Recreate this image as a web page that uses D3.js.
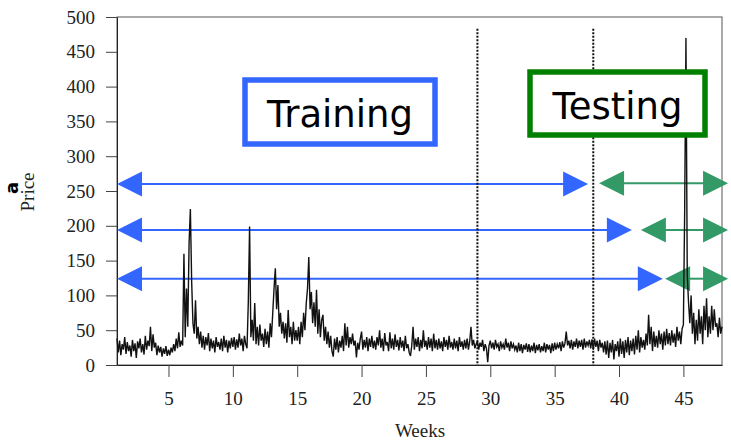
<!DOCTYPE html>
<html>
<head>
<meta charset="utf-8">
<title>Price over weeks</title>
<script src="https://d3js.org/d3.v7.min.js"></script>
<style>
  body { margin: 0; background: #fff; }
  .tick text { font-family: "Liberation Serif", "DejaVu Serif", serif; font-size: 19px; fill: #222; }
  .axis-label { font-family: "Liberation Serif", "DejaVu Serif", serif; font-size: 19px; fill: #222; }
  .box-label { font-family: "DejaVu Sans", sans-serif; font-size: 37px; fill: #000; }
</style>
</head>
<body>
<svg id="chart" width="731" height="441"></svg>
<script>
// price readings, one every 0.1 week starting at week 1
const weekStart = 1, weekStep = 0.1;
const price = [
  38,18,35,14,30,22,40,16,33,20,   // week 1
  28,12,36,20,31,10,34,24,38,18,
  30,15,42,22,35,27,55,20,44,25,
  32,14,28,18,26,12,24,16,27,13,
  22,14,25,18,30,20,38,24,47,26,   // week 5
  35,28,160,40,110,55,175,224,120,60,
  45,93,38,55,30,48,25,42,22,40,
  28,46,20,38,24,35,18,40,26,33,
  22,38,20,42,25,36,18,35,24,39,
  26,40,22,37,25,45,28,38,20,42,   // week 10
  30,24,90,199,40,65,35,89,30,55,
  28,58,35,45,26,52,30,48,25,60,
  40,75,110,139,80,115,55,75,45,62,
  38,60,32,79,40,55,30,62,35,50,
  35,55,30,62,40,75,50,88,110,155, // week 15
  80,105,60,90,55,108,45,80,40,65,
  72,35,55,30,48,25,42,20,12,38,
  22,40,18,35,25,42,20,60,28,55,
  25,40,30,45,28,35,11,32,22,38,
  48,22,36,25,40,20,38,26,42,24,   // week 20
  35,22,40,28,50,25,38,20,46,28,
  33,20,47,24,38,22,44,26,36,21,
  40,25,35,20,42,24,30,18,13,28,
  55,22,38,26,40,20,36,24,50,26,
  35,22,40,25,38,20,45,24,36,22,   // week 25
  38,24,34,20,40,26,36,22,42,25,
  33,22,38,24,35,20,40,26,34,22,
  36,24,38,22,34,55,28,36,24,30,
  34,22,32,26,36,20,30,24,4,28,
  35,24,32,22,36,26,30,20,34,25,   // week 30
  30,22,38,25,32,20,34,24,30,22,
  28,18,32,20,30,17,29,22,31,19,
  30,18,28,20,32,17,29,21,30,18,
  27,20,32,18,30,22,29,17,31,20,
  32,22,30,24,33,20,34,25,31,48,   // week 35
  28,35,24,36,22,34,26,38,24,35,
  26,36,22,38,25,34,28,36,24,37,
  22,38,26,35,20,36,25,32,18,34,
  15,35,10,32,18,36,8,30,20,34,
  12,38,16,34,10,36,18,40,14,35,   // week 40
  20,38,15,42,22,50,18,40,25,36,
  22,45,28,72,30,55,20,48,26,42,
  25,50,30,45,22,48,28,52,30,46,
  28,50,32,45,26,55,35,48,30,52,
  58,220,470,130,90,60,100,45,75,30, // week 45
  65,35,80,45,70,30,85,50,96,40,
  70,45,85,50,80,55,60,40,68,45,
  55
];

const xTicks = [5, 10, 15, 20, 25, 30, 35, 40, 45];
const yTicks = [0, 50, 100, 150, 200, 250, 300, 350, 400, 450, 500];

// week where training ends / testing starts
const splitWeeks = [29, 38];

// annotation arrows, in weeks and price
const trainingArrows = [
  {price: 260, from: 1, to: 37.6},
  {price: 194, from: 1, to: 41.0},
  {price: 124, from: 1, to: 43.4}
];
const testingArrows = [
  {price: 261, from: 38.45, to: 48.47},
  {price: 194, from: 41.7, to: 48.47},
  {price: 124, from: 43.58, to: 48.47}
];

const svg = d3.select("#chart");
const margin = {top: 17, right: 9, bottom: 76, left: 117};
const width = 731 - margin.left - margin.right,
      height = 441 - margin.top - margin.bottom;

const x = d3.scaleLinear().domain([1, 48]).range([margin.left, margin.left + width]);
const y = d3.scaleLinear().domain([0, 500]).range([margin.top + height, margin.top]);

// frame
svg.append("rect")
    .attr("x", margin.left).attr("y", margin.top)
    .attr("width", width).attr("height", height)
    .attr("fill", "none").attr("stroke", "#555").attr("stroke-width", 1);

// axes
const xAxis = svg.append("g")
    .attr("transform", `translate(0,${margin.top + height})`)
    .call(d3.axisBottom(x).tickValues(xTicks).tickSize(12).tickSizeOuter(0).tickPadding(15));
const yAxis = svg.append("g")
    .attr("transform", `translate(${margin.left},0)`)
    .call(d3.axisLeft(y).tickValues(yTicks).tickSize(11).tickSizeOuter(0).tickPadding(11));
[xAxis, yAxis].forEach(a => {
  a.select(".domain").attr("stroke", "#222");
  a.selectAll(".tick line").attr("stroke", "#444");
});

// axis titles
svg.append("text").attr("class", "axis-label")
    .attr("x", 420).attr("y", 437)
    .attr("text-anchor", "middle").text("Weeks");
svg.append("text").attr("class", "axis-label")
    .attr("transform", "translate(34,192) rotate(-90)")
    .attr("text-anchor", "middle").text("Price");
// panel letter at the left edge
svg.append("text")
    .attr("transform", "translate(18,188) rotate(-90)")
    .attr("text-anchor", "middle")
    .style("font-family", "DejaVu Sans, sans-serif")
    .style("font-size", "18px").style("font-weight", "bold")
    .text("a");

// arrows
const headLen = 25, headHalf = 12.5;
function drawArrow(a, color) {
  const x1 = x(a.from), x2 = x(a.to), yy = y(a.price);
  const g = svg.append("g");
  g.append("line")
      .attr("x1", x1 + headLen - 2).attr("x2", x2 - headLen + 2)
      .attr("y1", yy).attr("y2", yy)
      .attr("stroke", color).attr("stroke-width", 2);
  g.append("path")
      .attr("d", `M${x1},${yy}L${x1 + headLen},${yy - headHalf}L${x1 + headLen},${yy + headHalf}Z`)
      .attr("fill", color);
  g.append("path")
      .attr("d", `M${x2},${yy}L${x2 - headLen},${yy - headHalf}L${x2 - headLen},${yy + headHalf}Z`)
      .attr("fill", color);
}
trainingArrows.forEach(a => drawArrow(a, "#3366ff"));
testingArrows.forEach(a => drawArrow(a, "#339966"));

// price line
const line = d3.line()
    .x((d, i) => x(weekStart + i * weekStep))
    .y(d => y(d));
svg.append("path")
    .datum(price)
    .attr("d", line)
    .attr("fill", "none")
    .attr("stroke", "#111")
    .attr("stroke-width", 1.4)
    .attr("stroke-linejoin", "miter");

// split markers
svg.selectAll(".split")
    .data(splitWeeks)
    .enter().append("line")
    .attr("class", "split")
    .attr("x1", d => x(d)).attr("x2", d => x(d))
    .attr("y1", y(483)).attr("y2", y(0))
    .attr("stroke", "#111").attr("stroke-width", 2)
    .attr("stroke-dasharray", "2,1.5");

// labelled boxes
function drawBox(label, cx, cy, w, h, color) {
  svg.append("rect")
      .attr("x", cx - w / 2).attr("y", cy - h / 2)
      .attr("width", w).attr("height", h)
      .attr("fill", "#fff").attr("stroke", color).attr("stroke-width", 5.5);
  svg.append("text").attr("class", "box-label")
      .attr("x", cx).attr("y", cy + 15)
      .attr("text-anchor", "middle").text(label);
}
drawBox("Training", 340, 112, 190, 64, "#3366ff");
drawBox("Testing", 617.5, 103.5, 175, 63, "#008000");
</script>
</body>
</html>
